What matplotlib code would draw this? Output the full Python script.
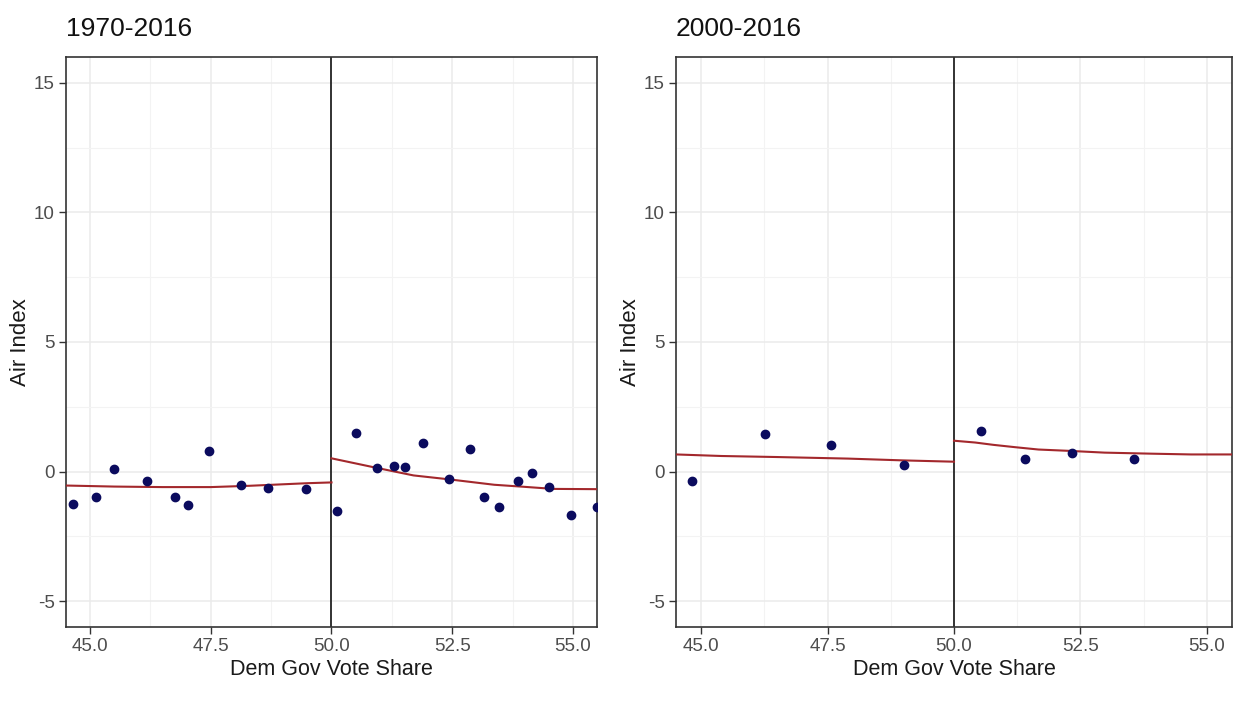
import matplotlib
matplotlib.use("Agg")
import matplotlib.pyplot as plt
from matplotlib.ticker import MultipleLocator

# binned means of the air index by Democratic governor vote share
left_x_lo = [44.65, 45.12, 45.50, 46.17, 46.75, 47.02, 47.46, 48.13, 48.68, 49.47]
left_y_lo = [-1.25, -0.99, 0.08, -0.36, -0.99, -1.31, 0.78, -0.51, -0.63, -0.69]
left_x_hi = [50.12, 50.50, 50.94, 51.29, 51.53, 51.90, 52.43, 52.87, 53.16, 53.46,
             53.86, 54.15, 54.50, 54.97, 55.50]
left_y_hi = [-1.53, 1.48, 0.15, 0.23, 0.17, 1.09, -0.30, 0.86, -0.99, -1.38,
             -0.36, -0.06, -0.61, -1.69, -1.38]

right_x_lo = [44.82, 46.27, 47.57, 49.02]
right_y_lo = [-0.35, 1.43, 1.03, 0.26]
right_x_hi = [50.54, 51.40, 52.33, 53.56]
right_y_hi = [1.57, 0.47, 0.71, 0.47]

# smoothed fits on each side of the 50% cutoff
left_fit_lo_x = [44.5, 45.5, 46.5, 47.5, 48.3, 49.5, 50.0]
left_fit_lo_y = [-0.54, -0.58, -0.60, -0.60, -0.55, -0.45, -0.42]
left_fit_hi_x = [50.0, 50.94, 51.70, 52.43, 53.37, 53.92, 54.60, 55.50]
left_fit_hi_y = [0.51, 0.14, -0.15, -0.30, -0.51, -0.58, -0.67, -0.68]

right_fit_lo_x = [44.5, 45.4, 46.5, 47.9, 49.0, 50.0]
right_fit_lo_y = [0.66, 0.60, 0.56, 0.50, 0.43, 0.38]
right_fit_hi_x = [50.0, 50.42, 50.78, 51.21, 51.67, 52.26, 52.98, 53.90, 54.69, 55.50]
right_fit_hi_y = [1.19, 1.12, 1.03, 0.94, 0.85, 0.80, 0.73, 0.69, 0.66, 0.66]

titles = ["1970-2016", "2000-2016"]
x_ticks = [45.0, 47.5, 50.0, 52.5, 55.0]
y_ticks = [-5, 0, 5, 10, 15]

plt.rcParams["font.family"] = ["Liberation Sans", "DejaVu Sans"]
plt.rcParams["axes.unicode_minus"] = False

POINT = "#0B0B5E"
FIT = "#A3282C"
GRID = "#EBEBEB"
BORDER = "#333333"
TICKTXT = "#4D4D4D"

fig = plt.figure(figsize=(12.38, 7.02), dpi=100)
ax_left = fig.add_axes([66 / 1238, 75 / 702, 531 / 1238, 570 / 702])
ax_right = fig.add_axes([676 / 1238, 75 / 702, 556 / 1238, 570 / 702])

panels = [
    (ax_left, left_x_lo, left_y_lo, left_x_hi, left_y_hi,
     left_fit_lo_x, left_fit_lo_y, left_fit_hi_x, left_fit_hi_y),
    (ax_right, right_x_lo, right_y_lo, right_x_hi, right_y_hi,
     right_fit_lo_x, right_fit_lo_y, right_fit_hi_x, right_fit_hi_y),
]

for (ax, xl, yl, xh, yh, fxl, fyl, fxh, fyh), title in zip(panels, titles):
    ax.set_xlim(44.5, 55.5)
    ax.set_ylim(-6, 16)

    ax.set_xticks(x_ticks)
    ax.set_xticklabels([f"{t:.1f}" for t in x_ticks])
    ax.set_yticks(y_ticks)
    ax.xaxis.set_minor_locator(MultipleLocator(1.25))
    ax.yaxis.set_minor_locator(MultipleLocator(2.5))
    ax.tick_params(which="minor", length=0)
    ax.tick_params(which="major", length=5, width=1, color=BORDER,
                   labelsize=13.5, labelcolor=TICKTXT, pad=3)
    ax.grid(which="major", color=GRID, linewidth=1.1, zorder=0)
    ax.grid(which="minor", color="#F3F3F3", linewidth=0.8, zorder=0)
    ax.set_axisbelow(True)
    for sp in ax.spines.values():
        sp.set_color(BORDER)
        sp.set_linewidth(1.2)

    ax.axvline(50, color="black", linewidth=1.1, zorder=2)

    ax.plot(fxl, fyl, color=FIT, linewidth=1.5, zorder=3)
    ax.plot(fxh, fyh, color=FIT, linewidth=1.5, zorder=3)
    ax.plot(xl, yl, "o", color=POINT, markersize=6, zorder=4)
    ax.plot(xh, yh, "o", color=POINT, markersize=6, zorder=4)

    ax.set_xlabel("Dem Gov Vote Share", fontsize=15.5, color="#1A1A1A", labelpad=3)
    ax.set_ylabel("Air Index", fontsize=16, color="#1A1A1A", labelpad=2)
    ax.set_title(title, loc="left", fontsize=19, color="#111111", pad=15)

fig.savefig("out.png", dpi=100)
